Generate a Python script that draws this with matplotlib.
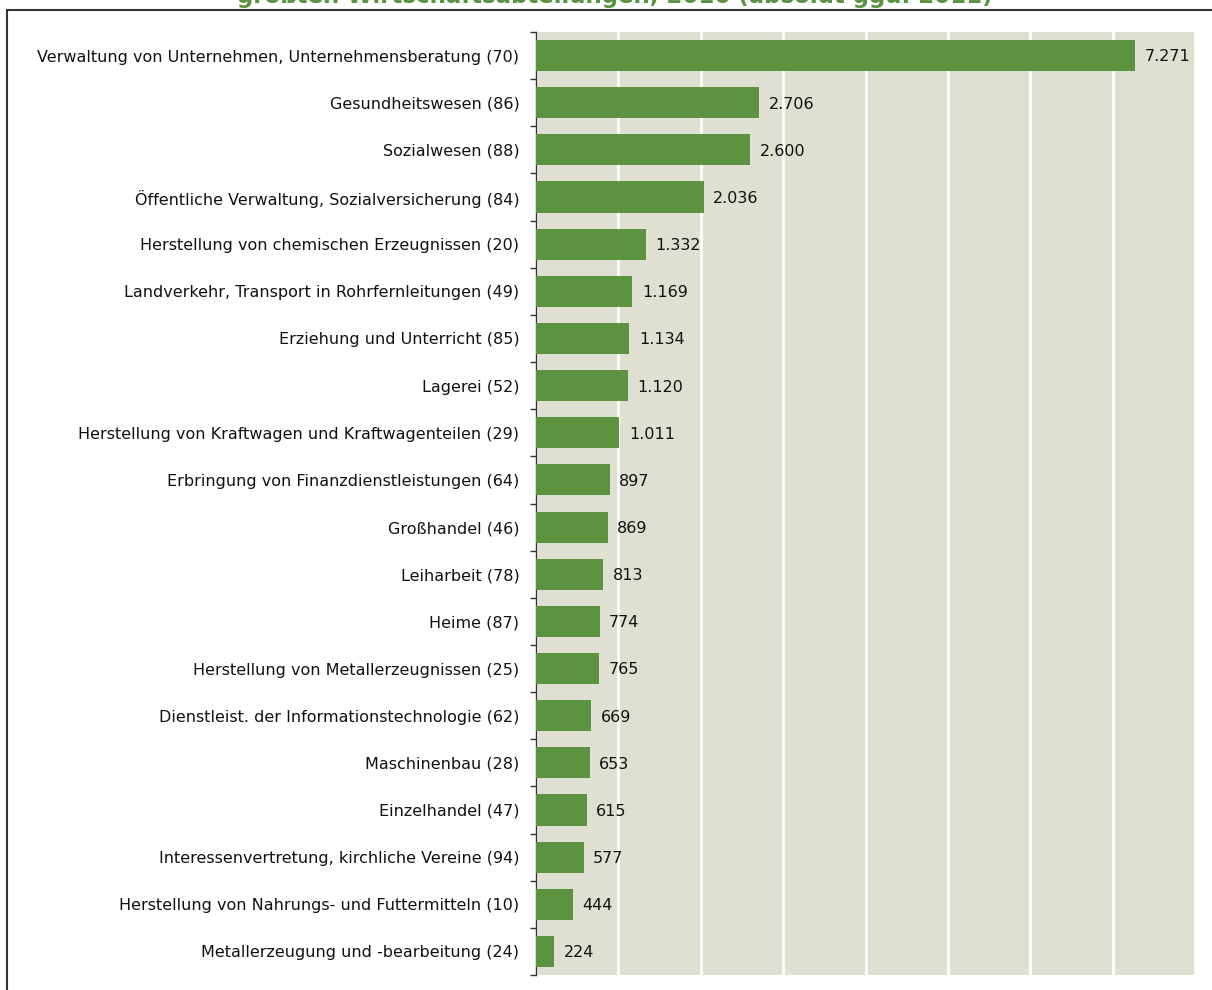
import matplotlib.pyplot as plt
from matplotlib.lines import Line2D
from matplotlib.ticker import FixedLocator, MultipleLocator

# Beschaeftigung nach Wirtschaftsabteilungen, 2016 vs. 2011
categories = [
    "Verwaltung von Unternehmen, Unternehmensberatung (70)",
    "Gesundheitswesen (86)",
    "Sozialwesen (88)",
    "Öffentliche Verwaltung, Sozialversicherung (84)",
    "Herstellung von chemischen Erzeugnissen (20)",
    "Landverkehr, Transport in Rohrfernleitungen (49)",
    "Erziehung und Unterricht (85)",
    "Lagerei (52)",
    "Herstellung von Kraftwagen und Kraftwagenteilen (29)",
    "Erbringung von Finanzdienstleistungen (64)",
    "Großhandel (46)",
    "Leiharbeit (78)",
    "Heime (87)",
    "Herstellung von Metallerzeugnissen (25)",
    "Dienstleist. der Informationstechnologie (62)",
    "Maschinenbau (28)",
    "Einzelhandel (47)",
    "Interessenvertretung, kirchliche Vereine (94)",
    "Herstellung von Nahrungs- und Futtermitteln (10)",
    "Metallerzeugung und -bearbeitung (24)",
]
values = [7271, 2706, 2600, 2036, 1332, 1169, 1134, 1120, 1011, 897,
          869, 813, 774, 765, 669, 653, 615, 577, 444, 224]

title = "größten Wirtschaftsabteilungen, 2016 (absolut ggü. 2011)"

green = "#5b9340"
bg = "#e0e0d2"

plt.rcParams['font.family'] = ['DejaVu Sans']

fig = plt.figure(figsize=(12.12, 9.9), dpi=100)
ax = fig.add_axes([536 / 1212, 1 - 975 / 990, (1195 - 536) / 1212, (975 - 32) / 990])

n = len(categories)
pos = list(range(n))
ax.barh(pos, values, height=0.66, color=green, zorder=3)
ax.set_ylim(n - 0.5, -0.5)
ax.set_xlim(0, 8000)

def fmt(v):
    return "{:,}".format(v).replace(",", ".")

for p, v in zip(pos, values):
    ax.text(v + 115, p + 0.03, fmt(v), va="center", ha="left", fontsize=11.5,
            color="#111111", zorder=4)

ax.set_facecolor(bg)
ax.xaxis.set_major_locator(MultipleLocator(1000))
ax.grid(axis="x", color="white", linewidth=2, zorder=1)
ax.tick_params(axis="x", bottom=False, labelbottom=False)

ax.set_yticks(pos)
ax.set_yticklabels(categories, fontsize=11.5, color="#111111")
ax.tick_params(axis="y", which="major", length=0, pad=12)
ax.yaxis.set_minor_locator(FixedLocator([i - 0.5 for i in range(n + 1)]))
ax.tick_params(axis="y", which="minor", length=4, width=1, color="#333333")

for s in ["top", "right", "bottom"]:
    ax.spines[s].set_visible(False)
ax.spines["left"].set_color("#333333")
ax.spines["left"].set_linewidth(1)

# Rahmen (oben und links)
fig.add_artist(Line2D([7 / 1212, 7 / 1212], [0, 1 - 10 / 990],
                      transform=fig.transFigure, color="#333333", linewidth=1.5))
fig.add_artist(Line2D([7 / 1212, 1], [1 - 10 / 990, 1 - 10 / 990],
                      transform=fig.transFigure, color="#333333", linewidth=1.5))

# Titel, oben abgeschnitten
fig.text(615 / 1212, 1 - 3 / 990, title, ha="center", va="baseline",
         fontsize=16.5, fontweight="bold", color=green)

fig.savefig("out.png", dpi=100)
